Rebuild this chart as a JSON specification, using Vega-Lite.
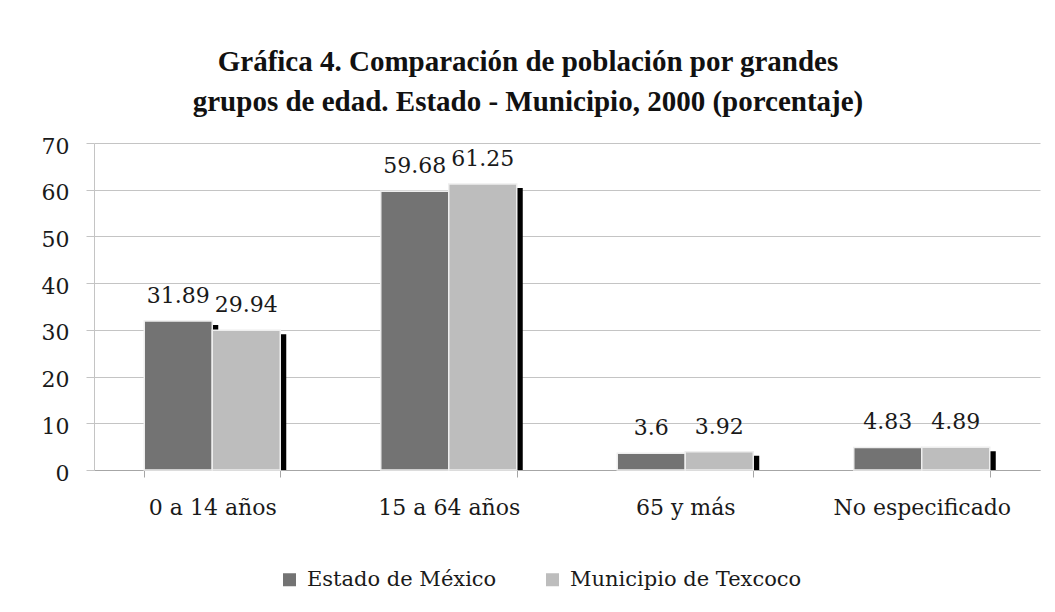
{
  "$schema": "https://vega.github.io/schema/vega-lite/v6.json",
  "autosize": "none",
  "width": 946,
  "height": 327,
  "padding": {"left": 94, "top": 143, "right": 15, "bottom": 142},
  "background": "white",
  "title": {
    "text": ["Gráfica 4. Comparación de población por grandes", "grupos de edad. Estado - Municipio, 2000 (porcentaje)"],
    "font": "Liberation Serif",
    "fontWeight": "bold",
    "fontSize": 29,
    "lineHeight": 40,
    "color": "#111111",
    "anchor": "middle",
    "frame": "group",
    "dx": -39,
    "offset": 18
  },
  "data": {
    "values": [
      {"grupo": "0 a 14 años", "serie": "Estado de México", "valor": 31.89},
      {"grupo": "0 a 14 años", "serie": "Municipio de Texcoco", "valor": 29.94},
      {"grupo": "15 a 64 años", "serie": "Estado de México", "valor": 59.68},
      {"grupo": "15 a 64 años", "serie": "Municipio de Texcoco", "valor": 61.25},
      {"grupo": "65 y más", "serie": "Estado de México", "valor": 3.6},
      {"grupo": "65 y más", "serie": "Municipio de Texcoco", "valor": 3.92},
      {"grupo": "No especificado", "serie": "Estado de México", "valor": 4.83},
      {"grupo": "No especificado", "serie": "Municipio de Texcoco", "valor": 4.89}
    ]
  },
  "encoding": {
    "x": {
      "field": "grupo",
      "type": "nominal",
      "sort": ["0 a 14 años", "15 a 64 años", "65 y más", "No especificado"],
      "scale": {"paddingInner": 0.425, "paddingOuter": 0.2125},
      "axis": {
        "title": null,
        "labelAngle": 0,
        "labelFont": "DejaVu Serif",
        "labelFontSize": 22,
        "labelColor": "#1a1a1a",
        "labelPadding": 20,
        "tickBand": "extent",
        "tickSize": 7,
        "tickColor": "#a6a6a6",
        "domainColor": "#a6a6a6",
        "grid": false
      }
    },
    "y": {
      "field": "valor",
      "type": "quantitative",
      "scale": {"domain": [0, 70], "nice": false},
      "axis": {
        "title": null,
        "values": [0, 10, 20, 30, 40, 50, 60, 70],
        "labelFont": "DejaVu Serif",
        "labelFontSize": 22,
        "labelColor": "#1a1a1a",
        "labelPadding": 17,
        "labelOffset": 3,
        "tickSize": 8,
        "tickColor": "#c4c4c4",
        "domainColor": "#c4c4c4",
        "grid": true,
        "gridColor": "#c4c4c4"
      }
    }
  },
  "layer": [
    {
      "mark": {"type": "bar", "color": "black", "yOffset": 4, "clip": true},
      "encoding": {
        "xOffset": {
          "field": "serie",
          "type": "nominal",
          "scale": {"range": [6, 142], "paddingInner": 0, "paddingOuter": 0}
        }
      }
    },
    {
      "mark": {"type": "bar", "stroke": "#eeeeee", "strokeWidth": 1.5},
      "encoding": {
        "xOffset": {"field": "serie", "type": "nominal", "scale": {"paddingInner": 0, "paddingOuter": 0}},
        "color": {
          "field": "serie",
          "type": "nominal",
          "scale": {"domain": ["Estado de México", "Municipio de Texcoco"], "range": ["#737373", "#bdbdbd"]},
          "legend": {
            "title": null,
            "orient": "none",
            "legendX": 185,
            "legendY": 426,
            "direction": "horizontal",
            "symbolType": "square",
            "symbolSize": 169,
            "symbolStrokeWidth": 0,
            "labelFont": "DejaVu Serif",
            "labelFontSize": 21,
            "labelColor": "#1a1a1a",
            "labelOffset": 7,
            "labelLimit": 0,
            "columnPadding": 45,
            "padding": 0
          }
        }
      }
    },
    {
      "mark": {"type": "text", "font": "DejaVu Serif", "fontSize": 22, "color": "#1a1a1a", "baseline": "alphabetic", "dy": -18},
      "encoding": {
        "xOffset": {"field": "serie", "type": "nominal", "scale": {"type": "band", "paddingInner": 0, "paddingOuter": 0}},
        "text": {"field": "valor", "type": "nominal"}
      }
    }
  ],
  "resolve": {"scale": {"xOffset": "independent"}},
  "config": {"view": {"stroke": null}}
}
